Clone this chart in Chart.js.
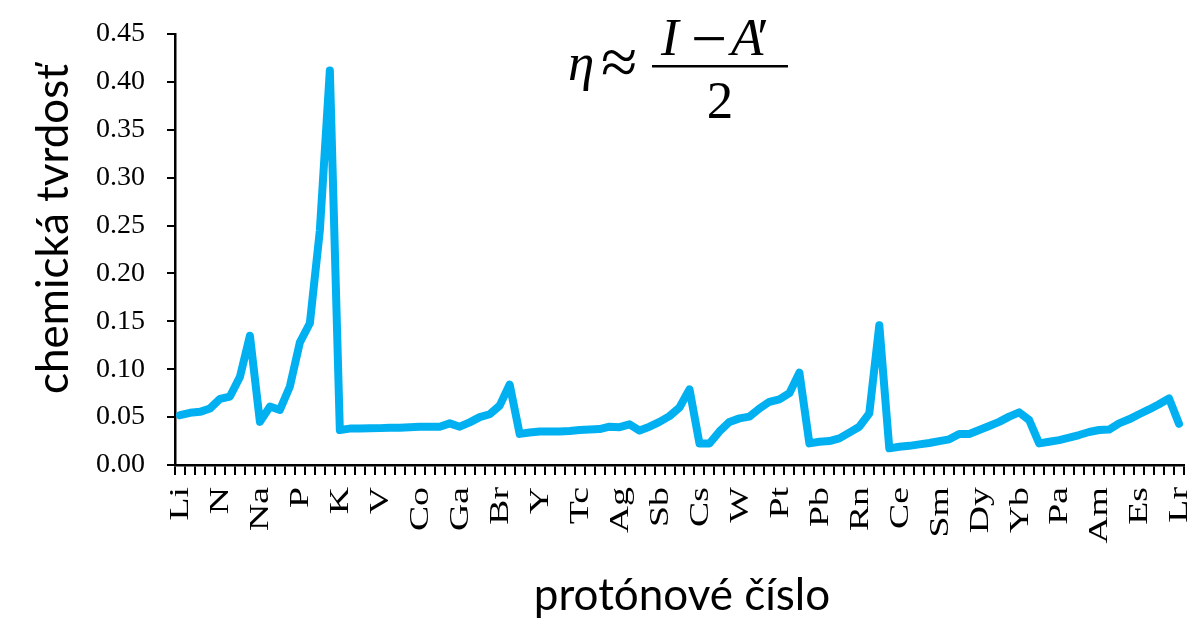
<!DOCTYPE html>
<html>
<head>
<meta charset="utf-8">
<script src="https://cdn.jsdelivr.net/npm/chart.js@4/dist/chart.umd.min.js"></script>
<style>
  html, body { margin: 0; padding: 0; background: #fff; }
  #wrap { width: 1198px; height: 621px; position: relative; }
</style>
</head>
<body>
<div id="wrap"><canvas id="c" width="1198" height="621"></canvas></div>
<script>
// Elements in plotting order: Li–Ba, Hf–Ra, then lanthanides, then actinides
const elements = [
  'Li','Be','B','C','N','O','F','Ne','Na','Mg','Al','Si','P','S','Cl','Ar',
  'K','Ca','Sc','Ti','V','Cr','Mn','Fe','Co','Ni','Cu','Zn','Ga','Ge','As','Se','Br','Kr',
  'Rb','Sr','Y','Zr','Nb','Mo','Tc','Ru','Rh','Pd','Ag','Cd','In','Sn','Sb','Te','I','Xe',
  'Cs','Ba','Hf','Ta','W','Re','Os','Ir','Pt','Au','Hg','Tl','Pb','Bi','Po','At','Rn','Fr','Ra',
  'La','Ce','Pr','Nd','Pm','Sm','Eu','Gd','Tb','Dy','Ho','Er','Tm','Yb','Lu',
  'Ac','Th','Pa','U','Np','Pu','Am','Cm','Bk','Cf','Es','Fm','Md','No','Lr'
];

// Chemical hardness η ≈ (I − A′)/2
const hardness = [
  0.052, 0.0545, 0.0555, 0.059, 0.069, 0.0715, 0.092, 0.135, 0.045, 0.061, 0.0575, 0.082, 0.128, 0.148, 0.245, 0.412,
  0.0365, 0.038, 0.038, 0.0383, 0.0385, 0.039, 0.039, 0.0395, 0.040, 0.040, 0.040, 0.0435, 0.040, 0.0445, 0.050, 0.053, 0.062, 0.084,
  0.0325, 0.034, 0.035, 0.035, 0.035, 0.0355, 0.0365, 0.037, 0.0375, 0.040, 0.0395, 0.0425, 0.036, 0.040, 0.045, 0.051, 0.060, 0.079,
  0.0225, 0.0225, 0.035, 0.045, 0.0487, 0.0505, 0.059, 0.066, 0.0686, 0.075, 0.0964, 0.0226, 0.0243, 0.025, 0.0278, 0.0338, 0.040, 0.054, 0.146,
  0.0174, 0.019, 0.020, 0.0215, 0.023, 0.025, 0.0268, 0.0324, 0.0324, 0.0365, 0.0407, 0.045, 0.0505, 0.055, 0.047,
  0.0226, 0.0243, 0.026, 0.0285, 0.0313, 0.0345, 0.0365, 0.037, 0.0435, 0.0477, 0.053, 0.058, 0.0634, 0.0696, 0.043
];

const labelEvery = 4;
const yTicks = [0, 0.05, 0.10, 0.15, 0.20, 0.25, 0.30, 0.35, 0.40, 0.45];
const xTitle = 'protónové číslo';
const yTitle = 'chemická tvrdosť';

const serif = '"Liberation Serif", "Times New Roman", serif';
const sans = 'Lato, "Open Sans", sans-serif';

// Element symbols under the x axis (every fourth category), rotated to read upwards
const elementLabels = {
  id: 'elementLabels',
  afterDraw(chart) {
    const ctx = chart.ctx;
    const xs = chart.scales.x;
    ctx.save();
    ctx.fillStyle = '#000';
    ctx.font = '28px ' + serif;
    ctx.textAlign = 'right';
    ctx.textBaseline = 'middle';
    elements.forEach((name, i) => {
      if (i % labelEvery !== 0) return;
      const x = xs.getPixelForValue(i);
      ctx.save();
      ctx.translate(x + 1, xs.top + 22);
      ctx.rotate(-Math.PI / 2);
      ctx.scale(1.35, 1);
      ctx.fillText(name, 0, 0);
      ctx.restore();
    });
    ctx.restore();
  }
};

// Axis titles and the hardness formula
const annotations = {
  id: 'annotations',
  afterDraw(chart) {
    const ctx = chart.ctx;
    ctx.save();
    ctx.fillStyle = '#000';

    ctx.font = '44px ' + sans;
    ctx.textAlign = 'center';
    ctx.textBaseline = 'alphabetic';
    ctx.fillText(xTitle, 682, 610);
    ctx.save();
    ctx.translate(68, 229);
    ctx.rotate(-Math.PI / 2);
    ctx.fillText(yTitle, 0, 0);
    ctx.restore();

    // η ≈ (I − A′) / 2
    const it = 'italic 53px ' + serif;
    const rg = '53px ' + serif;
    ctx.textAlign = 'left';
    ctx.font = it;
    ctx.fillText('η', 568, 80);
    ctx.font = '66px ' + serif;
    ctx.fillText('≈', 601, 84);
    ctx.font = it;
    ctx.fillText('I', 661, 55);
    ctx.font = '64px ' + serif;
    ctx.fillText('−', 691, 60);
    ctx.font = it;
    ctx.fillText('A', 731, 55);
    const aw = ctx.measureText('A').width;
    ctx.font = rg;
    ctx.fillText('′', 731 + aw - 6, 55);
    ctx.textAlign = 'center';
    ctx.fillText('2', 720, 118);
    ctx.fillRect(652, 65, 136, 2.5);
    ctx.restore();
  }
};

new Chart(document.getElementById('c'), {
  type: 'line',
  data: {
    labels: elements,
    datasets: [{
      data: hardness,
      borderColor: '#00B0F0',
      borderWidth: 8,
      pointRadius: 0,
      pointHoverRadius: 0,
      tension: 0,
      borderJoinStyle: 'round',
      borderCapStyle: 'round',
      fill: false
    }]
  },
  options: {
    responsive: false,
    animation: false,
    devicePixelRatio: 1,
    layout: { padding: { top: 34, right: 14, left: 0, bottom: 0 } },
    plugins: { legend: { display: false }, tooltip: { enabled: false }, title: { display: false } },
    scales: {
      x: {
        type: 'category',
        offset: true,
        afterFit(scale) {
          scale.height = 156;
          scale.paddingLeft = 0; scale.paddingRight = 0;
          scale.paddingTop = 0; scale.paddingBottom = 0;
        },
        border: { display: true, color: '#000', width: 2.5 },
        grid: {
          offset: true,
          drawOnChartArea: false,
          drawTicks: true,
          tickLength: 10,
          color: '#000',
          lineWidth: 2
        },
        ticks: { display: false, autoSkip: false }
      },
      y: {
        min: 0,
        max: 0.45,
        afterFit(scale) {
          scale.width = 175;
          scale.paddingLeft = 0; scale.paddingRight = 0;
          scale.paddingTop = 0; scale.paddingBottom = 0;
        },
        afterBuildTicks(scale) { scale.ticks = yTicks.map(v => ({ value: v })); },
        border: { display: true, color: '#000', width: 2.5 },
        grid: {
          drawOnChartArea: false,
          drawTicks: true,
          tickLength: 8,
          color: '#000',
          lineWidth: 2
        },
        ticks: {
          padding: 22,
          color: '#000',
          font: { family: serif, size: 28 },
          callback: v => v.toFixed(2)
        }
      }
    }
  },
  plugins: [elementLabels, annotations]
});
</script>
</body>
</html>
